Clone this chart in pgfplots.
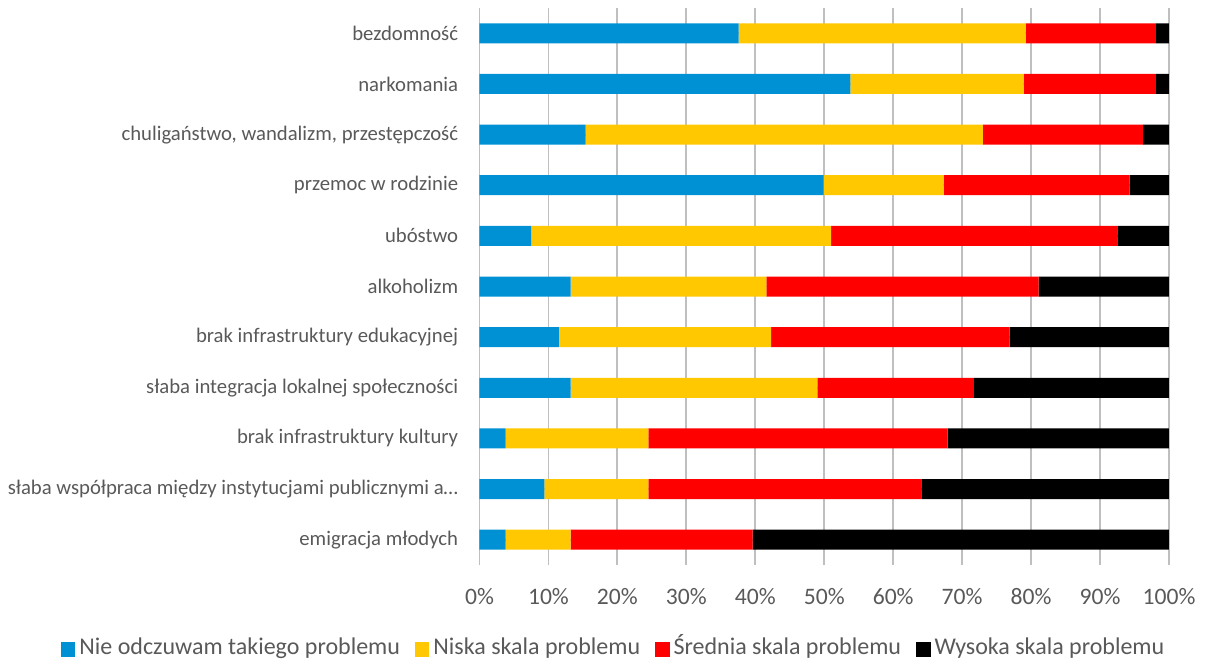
\documentclass[border=0pt]{standalone}
\usepackage{pgfplots}
\pgfplotsset{compat=1.18}
\usepackage{fontspec}
\setmainfont{Carlito}
\definecolor{cblue}{HTML}{0091D5}
\definecolor{cyellow}{HTML}{FFC800}
\definecolor{cred}{HTML}{FF0000}
\definecolor{cblack}{HTML}{000000}
\definecolor{txt}{HTML}{595959}
\definecolor{grid}{HTML}{D9D9D9}
\begin{document}
\begin{tikzpicture}
\begin{axis}[
  at={(0,0)}, anchor=south west,
  scale only axis,
  width=344.75pt, height=278.5pt,
  xbar stacked,
  bar width=10pt,
  xmin=0, xmax=100,
  ymin=-0.5, ymax=10.5,
  y dir=reverse,
  axis line style={draw=none},
  major tick length=0pt,
  xtick={0,10,...,100},
  xticklabel={\pgfmathprintnumber{\tick}\%},
  xmajorgrids,
  grid style={grid, line width=0.9pt},
  ytick={0,...,10},
  yticklabels={bezdomność, narkomania, {chuligaństwo, wandalizm, przestępczość}, przemoc w rodzinie, ubóstwo, alkoholizm, brak infrastruktury edukacyjnej, słaba integracja lokalnej społeczności, brak infrastruktury kultury, słaba współpraca między instytucjami publicznymi a…, emigracja młodych},
  /pgf/number format/assume math mode=true,
  yticklabel style={font=\fontsize{10.36}{12}\selectfont, text=txt, inner sep=0pt, anchor=east, xshift=-10.5pt},
  xticklabel style={font=\fontsize{11.8}{13}\selectfont, text=txt, inner sep=0pt, anchor=north, yshift=-11.5pt},
  every axis plot/.append style={draw=none},
  legend columns=4,
  legend style={draw=none, fill=none, at={(0.196,-0.152)}, anchor=center,
    font=\fontsize{12}{13}\selectfont, text=txt, inner sep=0pt,
    nodes={text height=0.72em, text depth=0.22em},
    /tikz/every even column/.append style={column sep=5.5pt}},
  legend image code/.code={\fill[#1] (0pt,-3.6pt) rectangle (7.2pt,3.6pt);},
]
\addplot[fill=cblue] coordinates {(37.6,0) (53.8,1) (15.4,2) (49.9,3) (7.5,4) (13.2,5) (11.5,6) (13.2,7) (3.8,8) (9.4,9) (3.8,10)};
\addplot[fill=cyellow] coordinates {(41.6,0) (25.1,1) (57.6,2) (17.4,3) (43.5,4) (28.4,5) (30.8,6) (35.8,7) (20.7,8) (15.1,9) (9.4,10)};
\addplot[fill=cred] coordinates {(18.9,0) (19.2,1) (23.2,2) (27.0,3) (41.5,4) (39.5,5) (34.6,6) (22.7,7) (43.4,8) (39.6,9) (26.4,10)};
\addplot[fill=cblack] coordinates {(1.9,0) (1.9,1) (3.8,2) (5.7,3) (7.5,4) (18.9,5) (23.1,6) (28.3,7) (32.1,8) (35.9,9) (60.4,10)};
\legend{Nie odczuwam takiego problemu, Niska skala problemu, Średnia skala problemu, Wysoka skala problemu}
\end{axis}
\pgfresetboundingbox
\path (-239.75pt,-50.5pt) rectangle (363.25pt,282.5pt);
\end{tikzpicture}
\end{document}
